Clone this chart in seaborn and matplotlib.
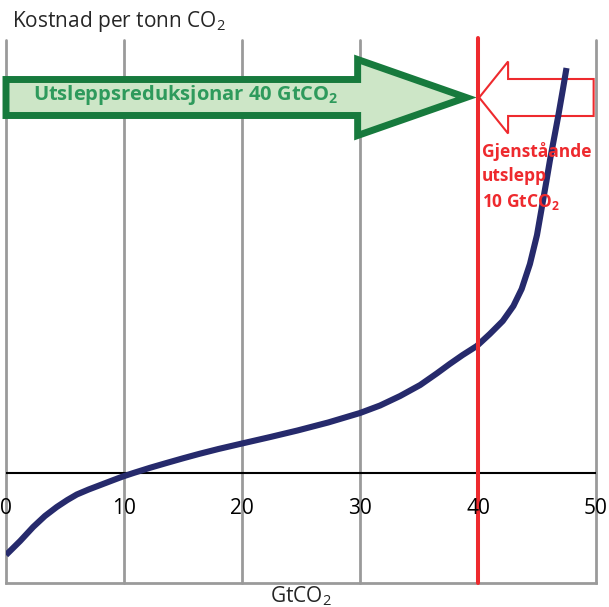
import matplotlib
matplotlib.use("Agg")
import matplotlib.pyplot as plt
from matplotlib.patches import FancyArrow
import seaborn as sns

# -----------------------------
# Data
# -----------------------------
emission_gt = [0, 1.2, 2.3, 3.3, 4.3, 5.2, 6.0, 7.0, 8.0, 9.0, 9.9, 10.8, 12.2,
               13.6, 15.0, 16.4, 18.0, 20.0, 22.4, 24.7, 27.3, 30.0, 31.7, 33.4,
               35.1, 36.5, 37.6, 38.7, 39.9, 41.0, 42.1, 43.0, 43.7, 44.4, 45.0,
               45.4, 45.8, 46.1, 46.5, 46.8, 47.2, 47.5]
cost = [-8.2, -6.8, -5.4, -4.3, -3.4, -2.7, -2.15, -1.65, -1.2, -0.75, -0.35, 0.0, 0.52,
        1.0, 1.47, 1.92, 2.4, 2.95, 3.6, 4.25, 5.05, 6.0, 6.75, 7.7,
        8.8, 9.95, 10.9, 11.8, 12.7, 13.9, 15.2, 16.7, 18.4, 20.9, 23.8,
        26.5, 29.2, 31.3, 33.8, 35.7, 38.4, 40.5]

x_ticks = [0, 10, 20, 30, 40, 50]
x_tick_labels = ["0", "10", "20", "30", "40", "50"]

total_emission = 50
reduction = 40
remaining = total_emission - reduction

title_text = r"Kostnad per tonn CO$_2$"
xlabel_text = r"GtCO$_2$"
reduction_text = r"Utsleppsreduksjonar 40 GtCO$\mathbf{_2}$"
remaining_text = "Gjenståande\nutslepp\n10 GtCO$\\mathbf{_2}$"

# -----------------------------
# Style
# -----------------------------
sns.set_theme(style="white")
plt.rcParams["font.family"] = ["Open Sans", "DejaVu Sans"]
plt.rcParams["mathtext.fontset"] = "custom"
plt.rcParams["mathtext.rm"] = "Open Sans"
plt.rcParams["mathtext.it"] = "Open Sans:italic"
plt.rcParams["mathtext.bf"] = "Open Sans:bold"

navy = "#262a6c"
grid_grey = "#9a9a9a"
red = "#ee2a2e"
dark_green = "#177a3d"
light_green = "#cde6c7"
text_green = "#2e9a5c"

fig = plt.figure(figsize=(6.09, 6.07), dpi=100)
ax = fig.add_axes([6 / 609, 24 / 607, 590 / 609, 543 / 607])
ax.set_xlim(0, 50)
ax.set_ylim(-11, 43.3)

# vertical grid
for xt in x_ticks:
    ax.axvline(xt, color=grid_grey, lw=2, zorder=1, clip_on=False)

# zero line
ax.axhline(0, color="black", lw=1.5, zorder=2)

# cost curve
sns.lineplot(x=emission_gt, y=cost, ax=ax, color=navy, linewidth=4.4,
             sort=False, zorder=6)
ax.lines[-1].set_solid_joinstyle("round")
ax.lines[-1].set_solid_capstyle("butt")

# remaining emissions line
ax.axvline(reduction, color=red, lw=2.9, zorder=7, ymax=1.004, clip_on=False)

# arrows
arrow_y = 37.55
green_arrow = FancyArrow(0, arrow_y, reduction - 1.0, 0, width=3.6, head_width=7.6,
                         head_length=9.2, length_includes_head=True,
                         facecolor=light_green, edgecolor=dark_green, linewidth=5,
                         joinstyle="miter", zorder=4, clip_on=False)
ax.add_patch(green_arrow)
red_arrow = FancyArrow(total_emission - 0.2, arrow_y, -(remaining - 0.3), 0, width=3.7,
                       head_width=7.2, head_length=2.45, length_includes_head=True,
                       facecolor="white", edgecolor=red, linewidth=1.5,
                       joinstyle="miter", zorder=3, clip_on=False)
ax.add_patch(red_arrow)

ax.text(2.3, 37.3, reduction_text, color=text_green, fontsize=14.5, fontweight="bold",
        va="baseline", ha="left", zorder=8)
ax.text(40.35, 26.6, remaining_text, color=red, fontsize=12.5, fontweight="bold",
        va="baseline", ha="left", linespacing=1.45, zorder=8)

# tick labels
for xt, lab in zip(x_ticks, x_tick_labels):
    ax.text(xt, -4.1, lab, ha="center", va="baseline", fontsize=15, color="black",
            zorder=8, clip_on=False)

ax.set_xticks([])
ax.set_yticks([])
for side in ["top", "left", "right"]:
    ax.spines[side].set_visible(False)
ax.spines["bottom"].set_color(grid_grey)
ax.spines["bottom"].set_linewidth(2)

fig.text(12 / 609, 1 - 27 / 607, title_text, fontsize=15, va="baseline", ha="left")
fig.text(301 / 609, 5 / 607, xlabel_text, fontsize=15, va="baseline", ha="center")

fig.savefig("out.png", dpi=100)
